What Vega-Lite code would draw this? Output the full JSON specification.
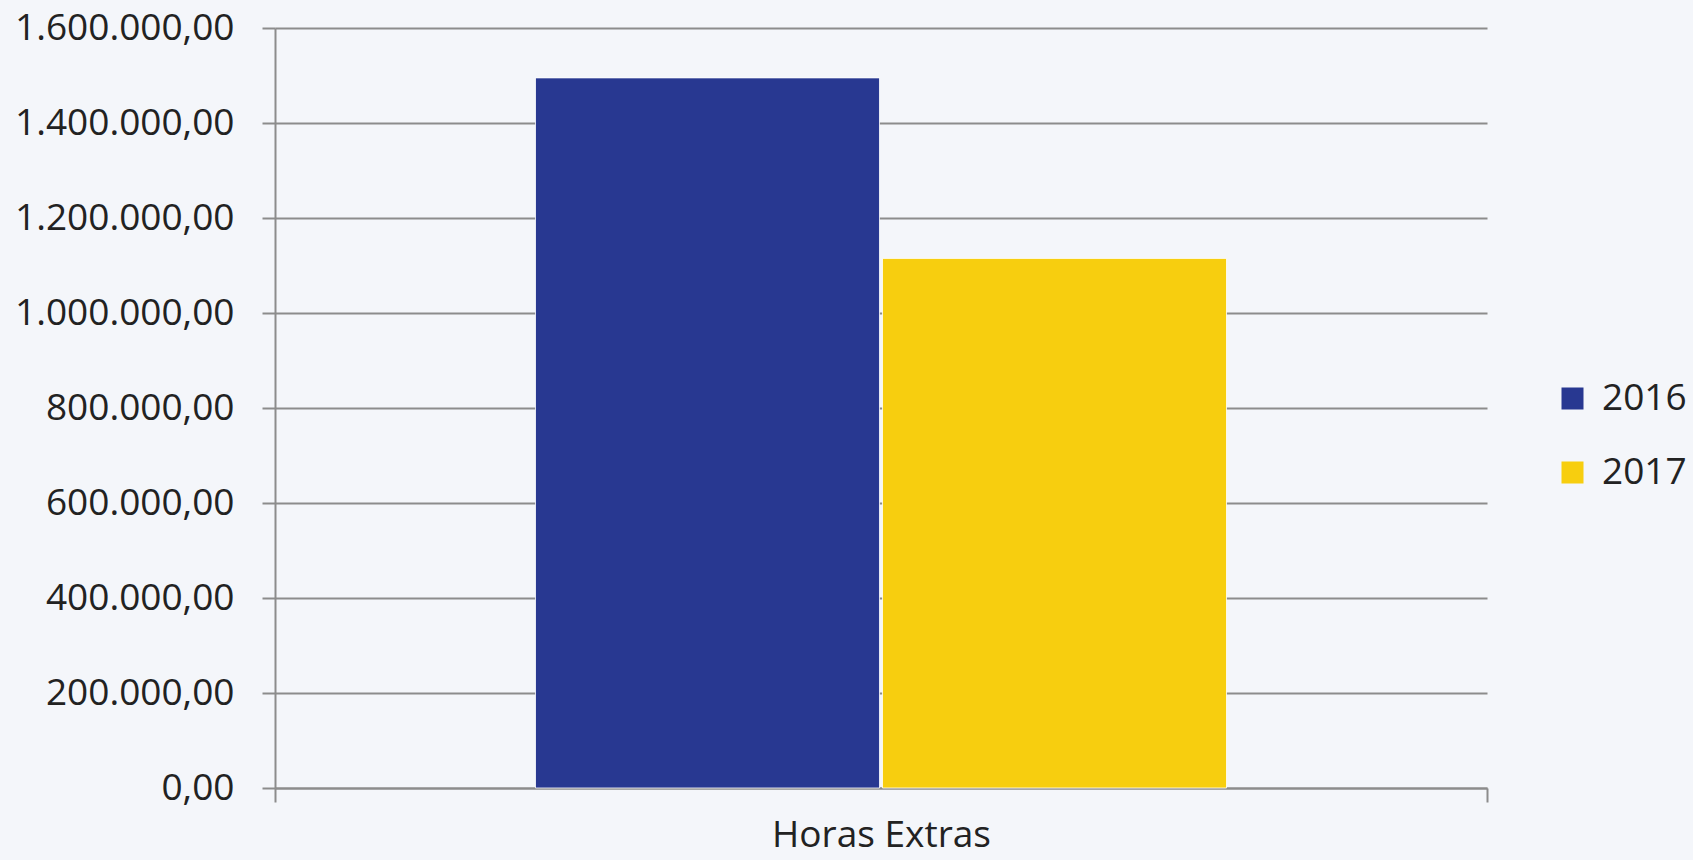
{
  "$schema": "https://vega.github.io/schema/vega-lite/v6.json",
  "width": 1212,
  "height": 760,
  "autosize": {"type": "none"},
  "padding": {"left": 275, "top": 28, "right": 206, "bottom": 72},
  "background": "#f4f6fa",
  "config": {
    "locale": {"number": {"decimal": ",", "thousands": ".", "grouping": [3], "currency": ["R$", ""]}},
    "view": {"stroke": null},
    "font": "Open Sans"
  },
  "data": {
    "values": [
      {"categoria": "Horas Extras", "ano": "2016", "valor": 1495000},
      {"categoria": "Horas Extras", "ano": "2017", "valor": 1115000}
    ]
  },
  "mark": {"type": "bar", "stroke": "#ffffff", "strokeWidth": 1, "strokeOpacity": 0.8},
  "encoding": {
    "x": {
      "field": "categoria",
      "type": "nominal",
      "scale": {"paddingInner": 0, "paddingOuter": 0},
      "axis": {
        "title": null,
        "labelAngle": 0,
        "labelFontSize": 37,
        "labelLimit": 0,
        "labelColor": "#222222",
        "labelPadding": 15,
        "tickBand": "extent",
        "tickSize": 14,
        "tickWidth": 2,
        "tickColor": "#8c8c8c",
        "domainColor": "#8c8c8c",
        "domainWidth": 2,
        "grid": false
      }
    },
    "xOffset": {
      "field": "ano",
      "type": "nominal",
      "scale": {"paddingInner": 0.00865, "paddingOuter": 0.7507}
    },
    "y": {
      "field": "valor",
      "type": "quantitative",
      "scale": {"domain": [0, 1600000], "nice": false},
      "axis": {
        "title": null,
        "values": [0, 200000, 400000, 600000, 800000, 1000000, 1200000, 1400000, 1600000],
        "format": ",.2f",
        "labelFontSize": 37,
        "labelLimit": 0,
        "labelColor": "#222222",
        "labelPadding": 28,
        "tickSize": 13,
        "tickWidth": 2,
        "tickColor": "#8c8c8c",
        "domainColor": "#8c8c8c",
        "domainWidth": 2,
        "gridColor": "#8c8c8c",
        "gridWidth": 2
      }
    },
    "color": {
      "field": "ano",
      "type": "nominal",
      "scale": {"domain": ["2016", "2017"], "range": ["#283891", "#f7ce0f"]},
      "legend": {
        "title": null,
        "orient": "none",
        "legendX": 1279,
        "legendY": 352,
        "padding": 0,
        "symbolType": "square",
        "symbolSize": 484,
        "symbolStrokeWidth": 0,
        "labelFontSize": 37,
        "labelLimit": 0,
        "labelColor": "#222222",
        "labelOffset": 11,
        "rowPadding": 36
      }
    }
  }
}
